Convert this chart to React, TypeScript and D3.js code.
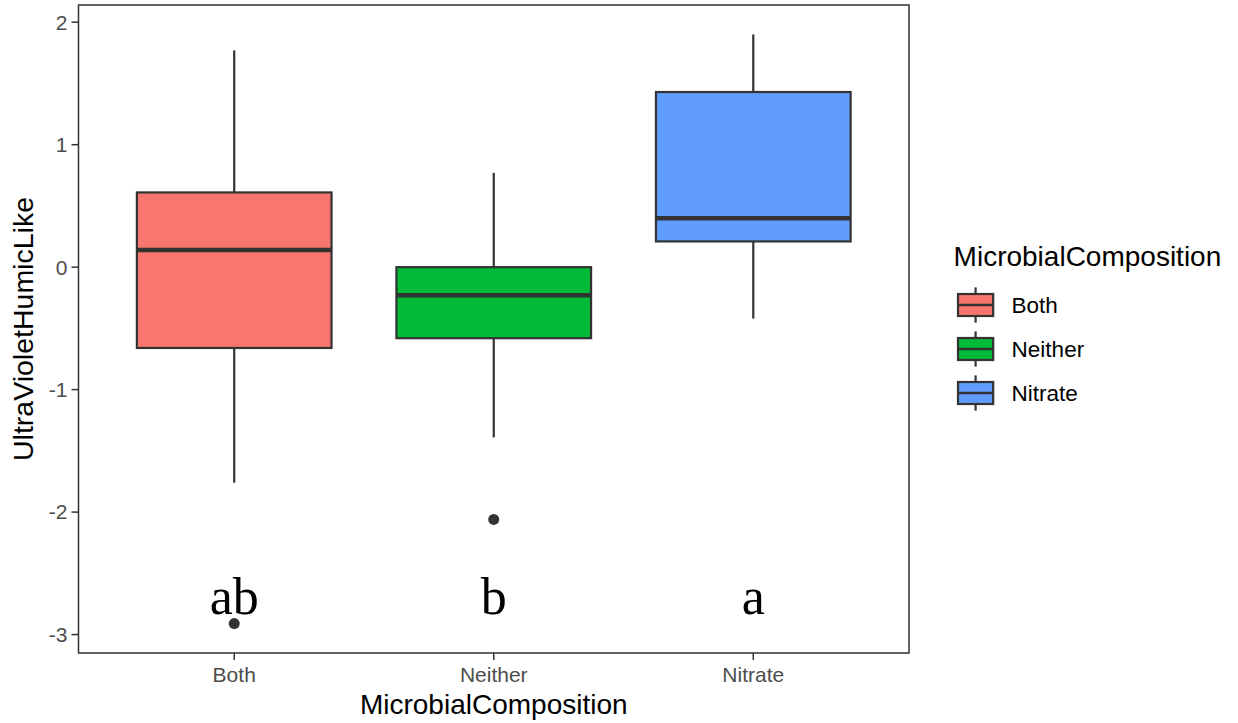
import { useEffect, useRef } from "react";
import * as d3 from "d3";

const categories = ["Both", "Neither", "Nitrate"];
const whiskerLow = [-1.76, -1.39, -0.42];
const q1 = [-0.66, -0.58, 0.21];
const median = [0.14, -0.23, 0.4];
const q3 = [0.61, 0.0, 1.43];
const whiskerHigh = [1.77, 0.77, 1.9];
const outlierGroups = ["Both", "Neither"];
const outlierValues = [-2.91, -2.06];
const letters = ["ab", "b", "a"];
const letterLevel = -2.83;
const yTicks = [-3, -2, -1, 0, 1, 2];
const colors = ["#F8766D", "#00BA38", "#619CFF"];

export default function App() {
  const ref = useRef<SVGSVGElement | null>(null);

  useEffect(() => {
    const width = 1238;
    const height = 723;
    const marginLeft = 78.5;
    const marginTop = 5;
    const panelRight = 909;
    const panelBottom = 653;
    const ink = "#333333";

    const svg = d3.select(ref.current);
    svg.selectAll("*").remove();
    svg.attr("width", width).attr("height", height);

    const all = [...whiskerLow, ...whiskerHigh, ...outlierValues];
    const lo = d3.min(all)!, hi = d3.max(all)!;
    const pad = (hi - lo) * 0.05;

    const x = d3.scalePoint<string>().domain(categories).range([marginLeft, panelRight]).padding(0.6);
    const y = d3.scaleLinear().domain([lo - pad, hi + pad]).range([panelBottom, marginTop]);
    const boxW = x.step() * 0.75;
    const color = d3.scaleOrdinal<string, string>().domain(categories).range(colors);

    svg.append("rect").attr("width", width).attr("height", height).attr("fill", "white");

    // boxes
    const g = svg.append("g");
    categories.forEach((c, i) => {
      const cx = x(c)!;
      g.append("line").attr("x1", cx).attr("x2", cx).attr("y1", y(q3[i])).attr("y2", y(whiskerHigh[i]))
        .attr("stroke", ink).attr("stroke-width", 2.2);
      g.append("line").attr("x1", cx).attr("x2", cx).attr("y1", y(q1[i])).attr("y2", y(whiskerLow[i]))
        .attr("stroke", ink).attr("stroke-width", 2.2);
      g.append("rect").attr("x", cx - boxW / 2).attr("width", boxW)
        .attr("y", y(q3[i])).attr("height", y(q1[i]) - y(q3[i]))
        .attr("fill", color(c)).attr("stroke", ink).attr("stroke-width", 2.2);
      g.append("line").attr("x1", cx - boxW / 2).attr("x2", cx + boxW / 2)
        .attr("y1", y(median[i])).attr("y2", y(median[i]))
        .attr("stroke", ink).attr("stroke-width", 4.5);
    });

    g.selectAll("circle.out").data(outlierValues).join("circle")
      .attr("cx", (d, i) => x(outlierGroups[i])!)
      .attr("cy", d => y(d))
      .attr("r", 5.5)
      .attr("fill", ink);

    // significance letters
    g.selectAll("text.letter").data(letters).join("text")
      .attr("x", (d, i) => x(categories[i])!)
      .attr("y", y(letterLevel))
      .attr("text-anchor", "middle")
      .attr("font-family", "'Liberation Serif', 'Times New Roman', serif")
      .attr("font-size", 52)
      .attr("fill", "black")
      .text(d => d);

    // panel border
    svg.append("rect").attr("x", marginLeft).attr("y", marginTop)
      .attr("width", panelRight - marginLeft).attr("height", panelBottom - marginTop)
      .attr("fill", "none").attr("stroke", ink).attr("stroke-width", 1.5);

    const font = "'Liberation Sans', Arial, sans-serif";

    // y axis
    const yAxis = svg.append("g");
    yTicks.forEach(t => {
      yAxis.append("line").attr("x1", marginLeft - 7).attr("x2", marginLeft)
        .attr("y1", y(t)).attr("y2", y(t)).attr("stroke", ink).attr("stroke-width", 1.5);
      yAxis.append("text").attr("x", marginLeft - 11).attr("y", y(t)).attr("dy", "0.35em")
        .attr("text-anchor", "end").attr("font-family", font).attr("font-size", 21)
        .attr("fill", "#4D4D4D").text(t);
    });

    // x axis
    const xAxis = svg.append("g");
    categories.forEach(c => {
      xAxis.append("line").attr("x1", x(c)!).attr("x2", x(c)!)
        .attr("y1", panelBottom).attr("y2", panelBottom + 7).attr("stroke", ink).attr("stroke-width", 1.5);
      xAxis.append("text").attr("x", x(c)!).attr("y", 682)
        .attr("text-anchor", "middle").attr("font-family", font).attr("font-size", 21)
        .attr("fill", "#4D4D4D").text(c);
    });

    svg.append("text").attr("x", (marginLeft + panelRight) / 2).attr("y", 714)
      .attr("text-anchor", "middle").attr("font-family", font).attr("font-size", 28)
      .attr("fill", "black").text("MicrobialComposition");

    svg.append("text")
      .attr("transform", `translate(33,${(marginTop + panelBottom) / 2}) rotate(-90)`)
      .attr("text-anchor", "middle").attr("font-family", font).attr("font-size", 28.5)
      .attr("fill", "black").text("UltraVioletHumicLike");

    // legend
    const legend = svg.append("g").attr("transform", "translate(953.6,0)");
    legend.append("text").attr("x", 0).attr("y", 266).attr("font-family", font)
      .attr("font-size", 28).attr("fill", "black").text("MicrobialComposition");
    const key = 44;
    categories.forEach((c, i) => {
      const top = 283 + i * key;
      const row = legend.append("g").attr("transform", `translate(0,${top})`);
      row.append("line").attr("x1", key / 2).attr("x2", key / 2).attr("y1", key * 0.1).attr("y2", key * 0.9)
        .attr("stroke", ink).attr("stroke-width", 2.2);
      row.append("rect").attr("x", key * 0.1).attr("y", key * 0.25)
        .attr("width", key * 0.8).attr("height", key * 0.5)
        .attr("fill", color(c)).attr("stroke", ink).attr("stroke-width", 2.2);
      row.append("line").attr("x1", key * 0.1).attr("x2", key * 0.9).attr("y1", key / 2).attr("y2", key / 2)
        .attr("stroke", ink).attr("stroke-width", 2.5);
      row.append("text").attr("x", 58).attr("y", key / 2).attr("dy", "0.35em")
        .attr("font-family", font).attr("font-size", 22.5).attr("fill", "black").text(c);
    });
  }, []);

  return (
    <div style={{ position: "absolute", left: 0, top: 0 }}>
      <svg ref={ref} style={{ display: "block" }} />
    </div>
  );
}
